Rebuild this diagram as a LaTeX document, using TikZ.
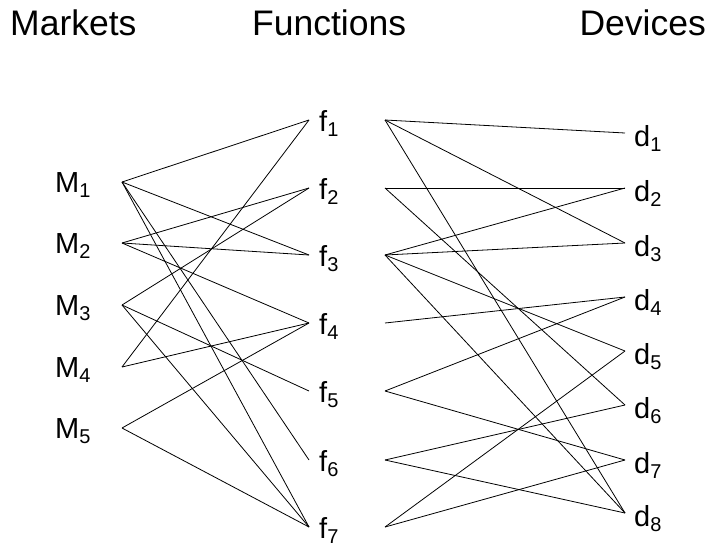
\documentclass[tikz,border=0pt]{standalone}
\usepackage{fontspec}
\setmainfont{Liberation Sans}
\newcommand{\lsub}[1]{\raisebox{-5.5pt}{\fontsize{20}{20}\selectfont #1}}
\begin{document}
\begin{tikzpicture}[x=1pt,y=-1pt,
  edge/.style={draw=black, line width=0.8pt},
  lbl/.style={anchor=base west, inner sep=0pt, font=\fontsize{29}{32}\selectfont},
  ttl/.style={inner sep=0pt, font=\fontsize{35.5}{40}\selectfont}]
\useasboundingbox (0,0) rectangle (711,546);
% titles
\node[ttl, anchor=base west] (tM) at (10,35) {Markets};
\node[ttl, anchor=base west] (tF) at (252,35) {Functions};
\node[ttl, anchor=base east] (tD) at (706,35) {Devices};
% markets
\foreach \i/\y in {1/182,2/243,3/305,4/367,5/428}{
  \coordinate (m\i) at (122,\y);
  \node[lbl] (M\i) at (55,\y+10) {M\lsub{\i}};
}
% functions
\foreach \i/\y in {1/120,2/188,3/255,4/323,5/391,6/460,7/527}{
  \coordinate (fl\i) at (309,\y);
  \coordinate (fr\i) at (385,\y);
  \node[lbl] (F\i) at (319,\y+11) {f\lsub{\i}};
}
% devices
\foreach \i/\y in {1/133,2/188,3/243,4/297,5/351,6/405,7/460,8/513}{
  \coordinate (d\i) at (625,\y);
  \node[lbl] (D\i) at (634,\y+13) {d\lsub{\i}};
}
% market-function edges
\foreach \a/\b in {1/1,1/3,1/6,1/7,2/2,2/3,2/4,3/2,3/5,3/7,4/1,4/4,5/4,5/7}{
  \draw[edge] (m\a) -- (fl\b);
}
% function-device edges
\foreach \a/\b in {1/1,1/3,1/8,2/2,2/6,3/2,3/3,3/5,3/8,4/4,5/4,5/7,6/6,6/8,7/5,7/7}{
  \draw[edge] (fr\a) -- (d\b);
}
\end{tikzpicture}
\end{document}
